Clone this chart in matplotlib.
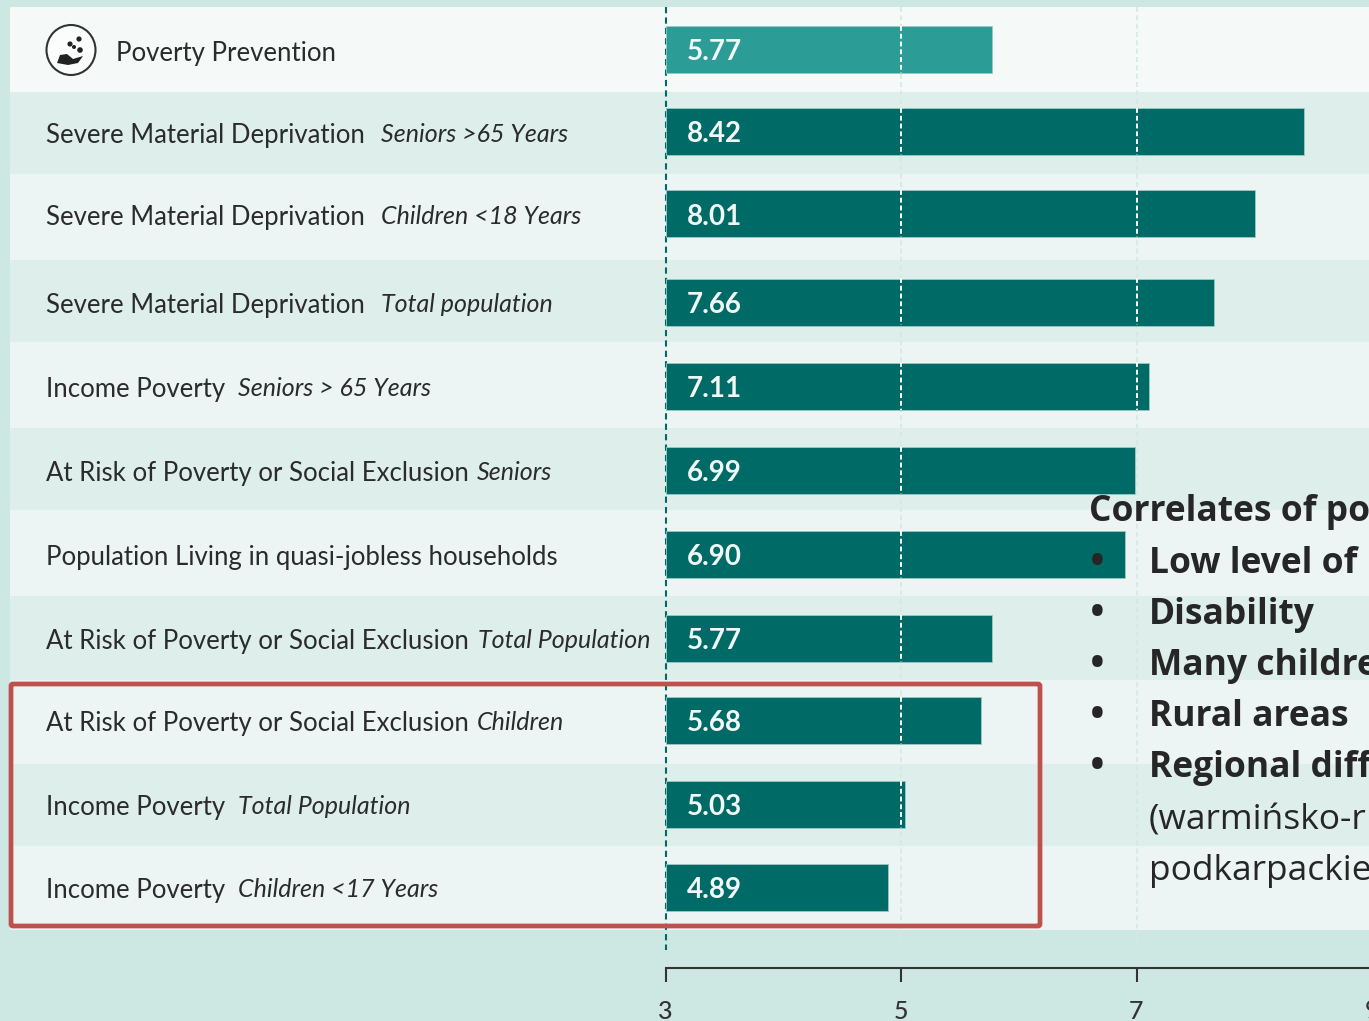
import matplotlib
matplotlib.use("Agg")
import matplotlib.pyplot as plt
from matplotlib.patches import Rectangle, Circle, Ellipse, FancyBboxPatch, Polygon

W, H = 1369, 1021
PX_PER_UNIT = 117.75
X3_PX = 665.5

labels = ["Poverty Prevention", "Severe Material Deprivation", "Severe Material Deprivation",
          "Severe Material Deprivation", "Income Poverty", "At Risk of Poverty or Social Exclusion",
          "Population Living in quasi-jobless households", "At Risk of Poverty or Social Exclusion",
          "At Risk of Poverty or Social Exclusion", "Income Poverty", "Income Poverty"]
sublabels = ["", "Seniors >65 Years", "Children <18 Years", "Total population", "Seniors > 65 Years",
             "Seniors", "", "Total Population", "Children", "Total Population", "Children <17 Years"]
values = [5.77, 8.42, 8.01, 7.66, 7.11, 6.99, 6.90, 5.77, 5.68, 5.03, 4.89]
xticks = [3, 5, 7]
xtick_clipped = 9

# layout (pixels)
row_y = [50, 132, 214, 302, 386, 470, 554, 638, 720, 804, 887]
band_edges = [7, 92, 174, 260, 342, 428, 510, 596, 680, 764, 846, 930]
sub_x = [0, 381, 381, 381, 238, 477, 0, 478, 477, 238, 238]
band_cols = ["#f5faf8", "#deefeb", "#ecf5f3"]

TEAL, TEAL_LT, BG = "#006b66", "#2b9c96", "#cde8e2"
INK = "#2b2b2b"

fig = plt.figure(figsize=(W / 100, H / 100), dpi=100, facecolor=BG)
ax = fig.add_axes([0, 0, 1, 1], facecolor=BG)
px = lambda p: 3 + (p - X3_PX) / PX_PER_UNIT

# row bands
for i in range(len(values)):
    col = band_cols[0] if i == 0 else band_cols[1 + (i + 1) % 2]
    ax.add_patch(Rectangle((px(10), band_edges[i]), (W - 10) / PX_PER_UNIT,
                           band_edges[i + 1] - band_edges[i], fc=col, ec="none", zorder=1))

# background grid
ax.vlines([5, 7], 7, 950, color="#d3e9e4", lw=1.2, ls=(0, (3, 2)), zorder=2)
ax.vlines(3, 7, 950, color=TEAL, lw=1.5, ls=(0, (3, 2)), zorder=2)

# bars
bar_cols = [TEAL_LT] + [TEAL] * (len(values) - 1)
ax.barh(row_y, [v - 3 for v in values], left=3, height=47, color=bar_cols,
        edgecolor="#9cc9c4", linewidth=0.6, zorder=3)

# white grid on the bars
for y, v in zip(row_y, values):
    for t in (5, 7):
        if v > t:
            ax.vlines(t, y - 23.5, y + 23.5, color="white", lw=1.4, ls=(0, (2.5, 1.5)), zorder=4)
    ax.annotate(f"{v:.2f}", (3, y), xytext=(15.5, -1.8), textcoords="offset points", color="#f2f8f7",
                fontsize=20, family="Lato", weight="bold", va="center", ha="left", zorder=5)

# row labels
for i, (lab, sub, y) in enumerate(zip(labels, sublabels, row_y)):
    x0 = 116 if i == 0 else 46
    ax.text(px(x0), y + 3, lab, family="Lato", fontsize=18.5, color=INK, va="center", ha="left", zorder=5)
    if sub:
        ax.text(px(sub_x[i]), y + 2, sub, family="Lato", style="italic", fontsize=18,
                color=INK, va="center", ha="left", zorder=5)

# icon
ax_icon = fig.add_axes([0, 0, 1, 1], facecolor="none")
ax_icon.set_xlim(0, W); ax_icon.set_ylim(H, 0); ax_icon.axis("off")
ax_icon.add_patch(Ellipse((71, 50), 49, 50, fc="#fbfdfc", ec="#333333", lw=1.5))
ax_icon.add_patch(Polygon([(57, 63), (60, 55), (67, 54), (73, 59), (83, 56), (78, 63), (68, 65)],
                          closed=True, fc="#222222", ec="none"))
for cx, cy, r in [(79, 39, 2.6), (70, 44, 2.6), (80, 50, 2.8), (74, 47, 2.0)]:
    ax_icon.add_patch(Circle((cx, cy), r, fc="#222222", ec="none"))

# highlight box
ax_icon.add_patch(FancyBboxPatch((11, 684), 1029, 242, boxstyle="round,pad=0,rounding_size=2",
                                 fc="none", ec="#c0504d", lw=3.4, zorder=6))

# overlay text
ov = [(1089, 512, "Correlates of po", True, False),
      (1149, 564, "Low level of", True, True),
      (1149, 615, "Disability", True, True),
      (1149, 666, "Many childre", True, True),
      (1149, 717, "Rural areas", True, True),
      (1149, 768, "Regional diff", True, True),
      (1149, 820, "(warmińsko-r", False, False),
      (1149, 871, "podkarpackie", False, False)]
for x, y, s, bold, bullet in ov:
    ax_icon.text(x, y, s, family="Open Sans", fontsize=25.5, weight="bold" if bold else "normal",
                 color="#262626", va="center", ha="left", zorder=7)
    if bullet:
        ax_icon.text(1097, y, "•", family="Open Sans", fontsize=36, color="#262626",
                     va="center", ha="center", zorder=7)

# x axis
for s in ("top", "left", "right"):
    ax.spines[s].set_visible(False)
ax.set_xticks(xticks)
ax.set_yticks([])
ax.set_xlim(3 - X3_PX / PX_PER_UNIT, 3 + (W - X3_PX) / PX_PER_UNIT)
ax.set_ylim(H, 0)
ax.spines["bottom"].set_position(("data", 968))
ax.spines["bottom"].set_bounds(3, ax.get_xlim()[1])
ax.spines["bottom"].set_color("#333333")
ax.spines["bottom"].set_linewidth(1.5)
ax.spines["bottom"].set_zorder(8)
ax.tick_params(axis="x", length=10, width=1.5, color="#333333", pad=13,
               labelsize=18, labelcolor="#333333")
for t in ax.get_xticklabels():
    t.set_family("Lato")
    t.set_weight("medium")
ax.text(xtick_clipped, 1010, str(xtick_clipped), family="Lato", fontsize=18, color="#333333",
        ha="center", va="center", clip_on=False)

fig.savefig("out.png", dpi=100, facecolor=BG)
